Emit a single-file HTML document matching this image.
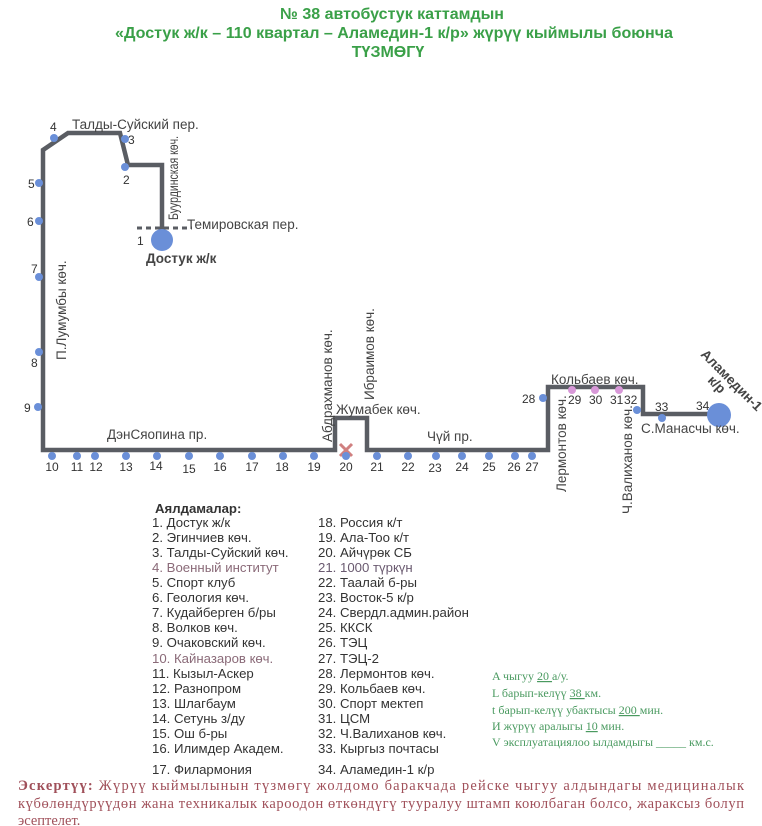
<!DOCTYPE html>
<html><head><meta charset="utf-8"><style>
body{margin:0;background:#fff}
svg{display:block}
text{font-family:"Liberation Sans",sans-serif;fill:#444}
.s text,text.s{font-size:13.5px;fill:#444}
.n text{font-size:12px;fill:#333}
.l text,text.l{font-size:13.2px;fill:#333}
.g text{font-family:"Liberation Serif",serif;font-size:12px;fill:#4a9a60}
.r text{font-family:"Liberation Serif",serif;font-size:14.5px;fill:#a0505a}
</style></head><body>
<svg width="762" height="826" viewBox="0 0 762 826">
<rect width="762" height="826" fill="#fff"/>
<g font-weight="bold" text-anchor="middle">
<text x="392" y="19" style="fill:#3aa048;font-size:16px">№ 38  автобустук каттамдын</text>
<text x="394" y="38" style="fill:#3aa048;font-size:16px" textLength="558" lengthAdjust="spacingAndGlyphs">«Достук ж/к – 110 квартал – Аламедин-1 к/р» жүрүү кыймылы боюнча</text>
<text x="388" y="57" style="fill:#3aa048;font-size:16px">ТҮЗМӨГҮ</text>
</g>
<polyline points="162,240 162,165 128,165 120,133 68,133 43,150 43,450 335,450 335,418 367,418 367,450 548,450 548,387 643,387 643,414 712,414" fill="none" stroke="#5a5d63" stroke-width="4.5"/>
<line x1="137" y1="228" x2="192" y2="228" stroke="#5a5d63" stroke-width="3" stroke-dasharray="5,4"/>
<circle cx="162" cy="240" r="11" fill="#6a8fd8"/>
<circle cx="719" cy="415" r="12" fill="#6a8fd8"/>
<path d="M340,444 L352,456 M340,456 L352,444" stroke="#d08080" stroke-width="3"/>
<g fill="#6a8fd8">
<circle cx="54" cy="138" r="4"/><circle cx="125" cy="139" r="4"/><circle cx="125" cy="167" r="4"/>
<circle cx="39" cy="183" r="4"/><circle cx="39" cy="221" r="4"/><circle cx="39" cy="277" r="4"/><circle cx="39" cy="352" r="4"/><circle cx="38" cy="407" r="4"/>
<circle cx="52" cy="456" r="4"/><circle cx="77" cy="456" r="4"/><circle cx="95" cy="456" r="4"/><circle cx="126" cy="456" r="4"/><circle cx="157" cy="456" r="4"/><circle cx="189" cy="456" r="4"/><circle cx="220" cy="456" r="4"/><circle cx="252" cy="456" r="4"/><circle cx="283" cy="456" r="4"/><circle cx="314" cy="456" r="4"/><circle cx="346" cy="456" r="4"/><circle cx="377" cy="456" r="4"/><circle cx="408" cy="456" r="4"/><circle cx="436" cy="456" r="4"/><circle cx="462" cy="456" r="4"/><circle cx="489" cy="456" r="4"/><circle cx="515" cy="456" r="4"/><circle cx="532" cy="456" r="4"/>
<circle cx="543" cy="398" r="4"/><circle cx="637" cy="410" r="4"/><circle cx="662" cy="418" r="4"/>
</g>
<g fill="#d898d8"><circle cx="572" cy="390" r="4"/><circle cx="595" cy="390" r="4"/><circle cx="619" cy="390" r="4"/></g>
<g class="n">
<text x="50" y="131">4</text><text x="128" y="144">3</text><text x="123" y="184">2</text><text x="137" y="245">1</text>
<text x="28" y="188">5</text><text x="27" y="226">6</text><text x="31" y="273">7</text><text x="31" y="367">8</text><text x="24" y="412">9</text>
<g text-anchor="middle">
<text x="52" y="471">10</text><text x="77" y="471">11</text><text x="96" y="471">12</text><text x="126" y="471">13</text><text x="156" y="470">14</text><text x="189" y="473">15</text><text x="220" y="471">16</text><text x="252" y="471">17</text><text x="282" y="471">18</text><text x="314" y="471">19</text><text x="346" y="471">20</text><text x="377" y="471">21</text><text x="408" y="471">22</text><text x="435" y="472">23</text><text x="462" y="471">24</text><text x="489" y="471">25</text><text x="514" y="471">26</text><text x="532" y="471">27</text>
</g>
<text x="522" y="403">28</text><text x="568" y="404">29</text><text x="589" y="404">30</text><text x="610" y="404">31</text><text x="624" y="404">32</text><text x="655" y="411">33</text><text x="696" y="410">34</text>
</g>
<g class="s">
<text x="72" y="129">Талды-Суйский пер.</text>
<text x="187" y="229">Темировская пер.</text>
<text x="146" y="263" font-weight="bold">Достук ж/к</text>
<text x="107" y="439">ДэнСяопина пр.</text>
<text x="336" y="414">Жумабек көч.</text>
<text x="427" y="441">Чүй пр.</text>
<text x="551" y="384">Кольбаев көч.</text>
<text x="641" y="433">С.Манасчы көч.</text>
<text transform="translate(178,220) rotate(-90)" textLength="84" lengthAdjust="spacingAndGlyphs">Буурдинская көч.</text>
<text transform="translate(66,360) rotate(-90)">П.Лумумбы көч.</text>
<text transform="translate(332,442) rotate(-90)">Абдрахманов көч.</text>
<text transform="translate(374,400) rotate(-90)">Ибраимов көч.</text>
<text transform="translate(566,492) rotate(-90)">Лермонтов көч.</text>
<text transform="translate(632,514) rotate(-90)">Ч.Валиханов көч.</text>
<text transform="translate(700,355) rotate(45)" font-weight="bold">Аламедин-1</text>
<text transform="translate(707,381) rotate(45)" font-weight="bold">к/р</text>
</g>
<text x="155" y="513" font-weight="bold" class="l">Аялдамалар:</text>
<g class="l">
<text x="152" y="527">1. Достук ж/к</text><text x="152" y="542">2. Эгинчиев көч.</text><text x="152" y="557">3. Талды-Суйский көч.</text><text x="152" y="572" style="fill:#8a6a78">4. Военный институт</text><text x="152" y="587">5. Спорт клуб</text><text x="152" y="602">6. Геология көч.</text><text x="152" y="617">7. Кудайберген б/ры</text><text x="152" y="632">8. Волков көч.</text><text x="152" y="647">9. Очаковский көч.</text><text x="152" y="663" style="fill:#8a6a78">10. Кайназаров көч.</text><text x="152" y="678">11. Кызыл-Аскер</text><text x="152" y="693">12. Разнопром</text><text x="152" y="708">13. Шлагбаум</text><text x="152" y="723">14. Сетунь з/ду</text><text x="152" y="738">15. Ош б-ры</text><text x="152" y="753">16. Илимдер Академ.</text><text x="152" y="774">17. Филармония</text>
<text x="318" y="527">18. Россия к/т</text><text x="318" y="542">19. Ала-Тоо к/т</text><text x="318" y="557">20. Айчүрөк СБ</text><text x="318" y="572" style="fill:#6a5a70">21. 1000 түркүн</text><text x="318" y="587">22. Таалай б-ры</text><text x="318" y="602">23. Восток-5 к/р</text><text x="318" y="617">24. Свердл.админ.район</text><text x="318" y="632">25. ККСК</text><text x="318" y="647">26. ТЭЦ</text><text x="318" y="663">27. ТЭЦ-2</text><text x="318" y="678">28. Лермонтов көч.</text><text x="318" y="693">29. Кольбаев көч.</text><text x="318" y="708">30. Спорт мектеп</text><text x="318" y="723">31. ЦСМ</text><text x="318" y="738">32. Ч.Валиханов көч.</text><text x="318" y="753">33. Кыргыз почтасы</text><text x="318" y="774">34. Аламедин-1 к/р</text>
</g>
<g class="g">
<text x="492" y="680">A чыгуу   <tspan text-decoration="underline">20 </tspan> а/у.</text>
<text x="492" y="697">L барып-келүү  <tspan text-decoration="underline"> 38 </tspan> км.</text>
<text x="492" y="714">t барып-келүү убактысы <tspan text-decoration="underline">200 </tspan> мин.</text>
<text x="492" y="730">И жүрүү аралыгы <tspan text-decoration="underline">10</tspan>  мин.</text>
<text x="492" y="746">V эксплуатациялоо ылдамдыгы _____ км.с.</text>
</g>
<g class="r">
<text x="18" y="790" textLength="726" lengthAdjust="spacing"><tspan font-weight="bold">Эскертүү:</tspan> Жүрүү кыймылынын түзмөгү жолдомо баракчада рейске чыгуу алдындагы медициналык</text>
<text x="18" y="808" textLength="726" lengthAdjust="spacing">күбөлөндүрүүдөн жана техникалык кароодон өткөндүгү тууралуу штамп коюлбаган болсо, жараксыз болуп</text>
<text x="18" y="825">эсептелет.</text>
</g>
</svg>
</body></html>
